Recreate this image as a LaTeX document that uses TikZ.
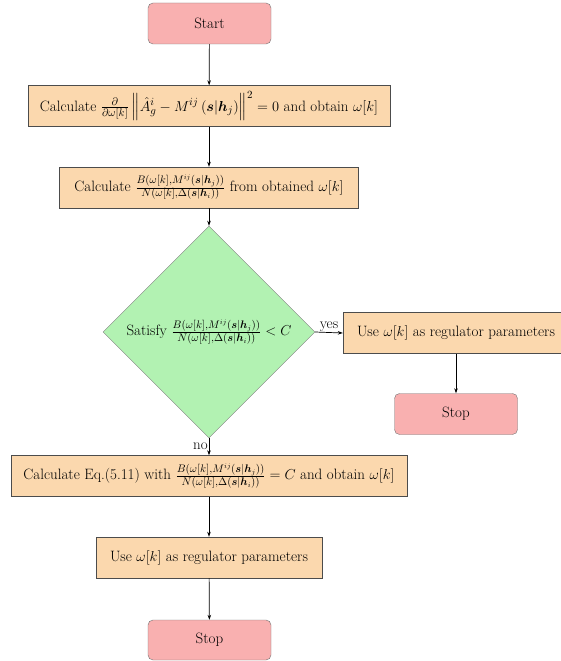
\documentclass[tikz,border=0pt]{standalone}
\usepackage{amsmath,amssymb,bm}
\usetikzlibrary{shapes.geometric,arrows.meta}
\definecolor{pinkf}{HTML}{F9B0B0}
\definecolor{orangef}{HTML}{FBD8AE}
\definecolor{greenf}{HTML}{B2F2B2}
\newcommand{\myratio}{\frac{B(\omega[k],M^{ij}(\bm{s}|\bm{h}_j))}{N(\omega[k],\Delta(\bm{s}|\bm{h}_i))}}
\begin{document}
\begin{tikzpicture}[x=1pt,y=-1pt,
  every node/.style={font=\fontsize{15}{18}\selectfont},
  term/.style={draw=black!55, fill=pinkf, rounded corners=5pt, minimum width=123pt, minimum height=41pt, inner sep=2pt},
  procbox/.style={draw=black!70, fill=orangef, minimum height=41pt, inner xsep=4pt, inner ysep=3pt},
  decis/.style={draw=black!50, fill=greenf, diamond, aspect=1, inner sep=0pt, minimum width=212pt, minimum height=212pt},
  conn/.style={-{Stealth[length=5pt,width=3.5pt]}, line width=0.7pt, black},
  lbl/.style={font=\fontsize{15}{18}\selectfont, inner sep=1pt}]
\useasboundingbox (0,0) rectangle (561,661);
\node[term] (start) at (209.5,23.5) {Start};
\node[procbox, minimum width=362pt] (b1) at (209,106) {Calculate $\frac{\partial}{\partial\omega[k]}\left\|\hat{A}^i_g - M^{ij}\left(\bm{s}|\bm{h}_j\right)\right\|^2 = 0$ and obtain $\omega[k]$};
\node[procbox, minimum width=299pt] (b2) at (209,187.5) {Calculate $\myratio$ from obtained $\omega[k]$};
\node[decis] (d) at (209,332) {};
\node (dtext) at (209,332) {Satisfy $\myratio < C$};
\node[procbox, minimum width=226pt] (yesb) at (456,333) {Use $\omega[k]$ as regulator parameters};
\node[term] (stopr) at (456,414) {Stop};
\node[procbox, minimum width=396pt] (b3) at (209,476) {Calculate Eq.(5.11) with $\myratio = C$ and obtain $\omega[k]$};
\node[procbox, minimum width=226pt] (b4) at (209,557.5) {Use $\omega[k]$ as regulator parameters};
\node[term, minimum height=40pt] (stopb) at (209.5,640) {Stop};
\draw[conn] (start) -- (b1);
\draw[conn] (b1) -- (b2);
\draw[conn] (b2) -- (d);
\draw[conn] (d.east) -- node[lbl, above, pos=0.5] (yeslbl) {yes} (yesb.west);
\draw[conn] (yesb) -- (stopr);
\draw[conn] (d.south) -- node[lbl, left, pos=0.45] (nolbl) {no} (b3.north);
\draw[conn] (b3) -- (b4);
\draw[conn] (b4) -- (stopb);
\end{tikzpicture}
\end{document}
